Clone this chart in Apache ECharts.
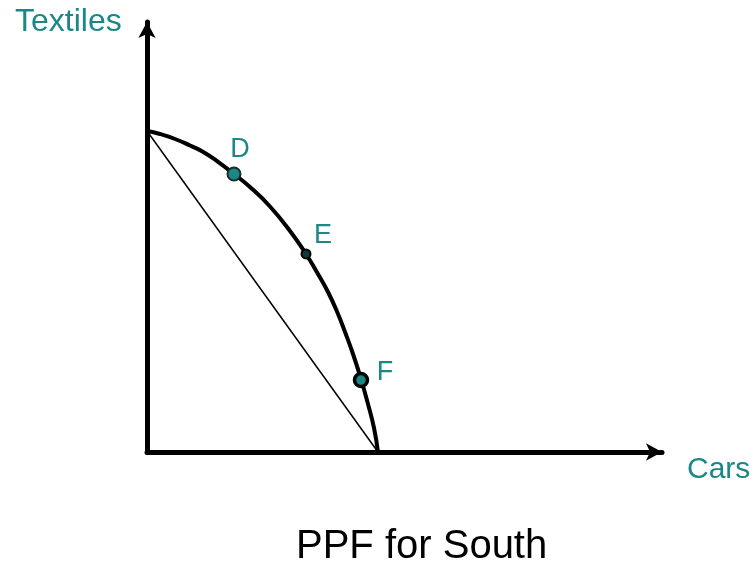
<!DOCTYPE html>
<html lang="en">
<head>
    <meta charset="utf-8">
    <title>PPF for South</title>
    <script src="https://cdn.jsdelivr.net/npm/echarts@6/dist/echarts.min.js"></script>
    <style>
        html, body { margin: 0; padding: 0; background: #fff; }
        #main { width: 756px; height: 564px; }
    </style>
</head>
<body>
    <div id="main"></div>
    <script type="text/javascript">

    // PPF curve (cars, textiles)
    var ppfCars     = [0, 2.52, 5.44, 8.35, 10.68, 13.79, 16.89, 20.00, 23.88, 27.77, 30.87, 33.20, 35.15, 37.09, 38.45, 40.00, 41.55, 42.91, 44.08, 44.85];
    var ppfTextiles = [74.65, 73.95, 72.79, 71.28, 69.93, 67.49, 64.65, 61.63, 57.09, 51.40, 46.05, 41.40, 37.21, 32.09, 27.91, 22.79, 16.98, 11.16, 5.58, 0];

    // straight line between the two intercepts
    var lineCars     = [0, 44.85];
    var lineTextiles = [74.65, 0];

    // labelled points
    var pointNames    = ['D', 'E', 'F'];
    var pointCars     = [16.89, 30.87, 41.55];
    var pointTextiles = [64.65, 46.05, 16.74];

    var teal = '#1b8787';

    var chart = echarts.init(document.getElementById('main'));

    var pointStyles = [
        { symbolSize: 13, itemStyle: { color: teal, borderColor: '#1a2b2b', borderWidth: 2, opacity: 1 }, offset: [6, -24] },
        { symbolSize: 9,  itemStyle: { color: '#0d3b3b', borderColor: '#000', borderWidth: 2, opacity: 1 }, offset: [17, -18] },
        { symbolSize: 13, itemStyle: { color: teal, borderColor: '#000', borderWidth: 3.5, opacity: 1 }, offset: [24, -7] }
    ];

    var pointData = pointNames.map(function (n, i) {
        return {
            name: n,
            value: [pointCars[i], pointTextiles[i]],
            symbolSize: pointStyles[i].symbolSize,
            itemStyle: pointStyles[i].itemStyle,
            label: { offset: pointStyles[i].offset }
        };
    });

    var axisCommon = {
        type: 'value',
        min: 0,
        max: 100,
        axisLine: {
            show: true,
            symbol: ['none', 'arrow'],
            symbolSize: [13, 16],
            lineStyle: { color: '#000', width: 5 }
        },
        axisTick: { show: false },
        axisLabel: { show: false },
        splitLine: { show: false }
    };

    chart.setOption({
        animation: false,
        title: {
            text: 'PPF for South',
            left: 291,
            top: 522,
            textStyle: { fontFamily: 'Liberation Sans', fontSize: 40, fontWeight: 'normal', color: '#000' }
        },
        grid: { left: 147, right: 94, top: 22, bottom: 112 },
        xAxis: axisCommon,
        yAxis: axisCommon,
        graphic: [
            { type: 'text', left: 15, top: 6, style: { text: 'Textiles', fill: teal, font: '32px "Liberation Sans"' } },
            { type: 'text', left: 687, top: 455, style: { text: 'Cars', fill: teal, font: '30px "Liberation Sans"' } }
        ],
        series: [
            {
                type: 'line',
                data: lineCars.map(function (x, i) { return [x, lineTextiles[i]]; }),
                showSymbol: false,
                lineStyle: { color: '#000', width: 1.5 },
                z: 1
            },
            {
                type: 'line',
                data: ppfCars.map(function (x, i) { return [x, ppfTextiles[i]]; }),
                showSymbol: false,
                smooth: 0.5,
                lineStyle: { color: '#000', width: 4 },
                z: 2
            },
            {
                type: 'scatter',
                data: pointData,
                label: {
                    show: true,
                    formatter: '{b}',
                    position: 'inside',
                    color: teal,
                    textBorderWidth: 0,
                    fontFamily: 'Liberation Sans',
                    fontSize: 27
                },
                z: 3
            }
        ]
    });

    </script>
</body>
</html>
